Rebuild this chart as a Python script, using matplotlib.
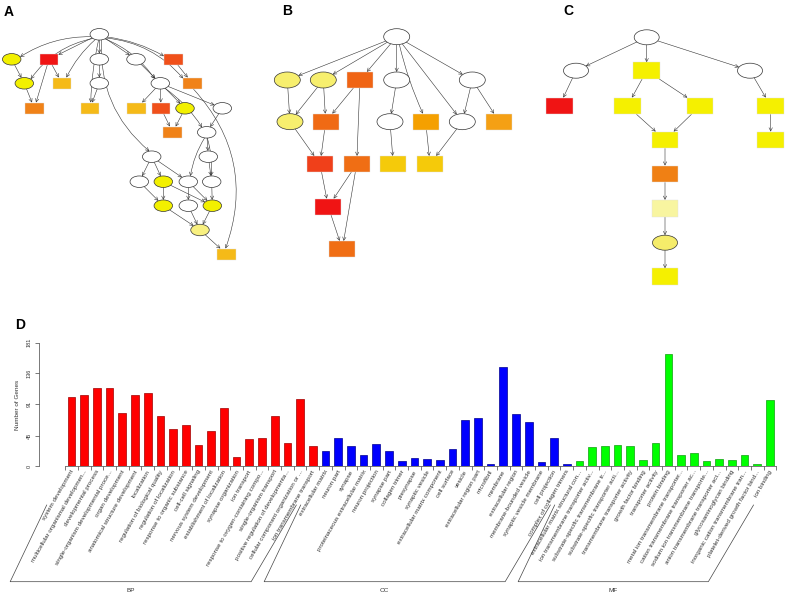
import numpy as np
import matplotlib
matplotlib.use('Agg')
import matplotlib.pyplot as plt
from matplotlib.patches import Ellipse, Rectangle

plt.rcParams['font.family'] = ['Liberation Sans', 'DejaVu Sans']

# ============================================
# Data for panel D (GO term counts)
# ============================================
bp_terms = ['system development', 'multicellular organismal developmen...',
            'developmental process', 'single-organism developmental proce...',
            'organ development', 'anatomical structure development',
            'localization', 'regulation of biological quality',
            'regulation of localization', 'response to organic substance',
            'cell-cell signaling', 'nervous system development',
            'establishment of localization', 'synapse organization',
            'ion transport', 'response to oxygen-containing compo...',
            'single-organism transport', 'positive regulation of developmenta...',
            'cellular component organization or ...', 'ion transmembrane transport']
bp_counts = [101, 105, 115, 114, 78, 105, 108, 74, 55, 61,
             31, 52, 85, 13, 40, 41, 73, 34, 98, 29]

cc_terms = ['extracellular matrix', 'neuron part', 'synapse',
            'proteinaceous extracellular matrix', 'neuron projection',
            'synapse part', 'collagen trimer', 'presynapse', 'synaptic vesicle',
            'extracellular matrix component', 'cell surface', 'vesicle',
            'extracellular region part', 'microfibril', 'membrane',
            'extracellular region', 'membrane-bounded vesicle',
            'synaptic vesicle membrane', 'cell projection',
            'complex of collagen trimers']
cc_counts = [22, 41, 29, 17, 33, 23, 8, 12, 10, 9,
             25, 68, 70, 3, 146, 76, 65, 6, 41, 3]

mf_terms = ['extracellular matrix structural con...',
            'ion transmembrane transporter activ...',
            'substrate-specific transmembrane tr...',
            'substrate-specific transporter acti...',
            'transmembrane transporter activity', 'growth factor binding',
            'transporter activity', 'protein binding',
            'metal ion transmembrane transporter...',
            'cation transmembrane transporter ac...',
            'sodium ion transmembrane transporte...',
            'anion transmembrane transporter act...',
            'glycosaminoglycan binding',
            'inorganic cation transmembrane tran...',
            'platelet-derived growth factor bind...', 'ion binding']
mf_counts = [8, 28, 29, 31, 29, 9, 34, 164, 16, 20, 8, 11, 9, 16, 3, 97]

group_names = ['BP', 'CC', 'MF']
y_ticks = [0, 45, 91, 136, 181]

# ============================================
# Figure and overlay (pixel coordinates)
# ============================================
fig = plt.figure(figsize=(7.87, 5.96), dpi=100)
ov = fig.add_axes([0, 0, 1, 1])
ov.set_xlim(0, 787)
ov.set_ylim(596, 0)
ov.axis('off')

for lab, lx, ly in [('A', 8.3, 11.7), ('B', 286.7, 11), ('C', 568.3, 11), ('D', 20.5, 325)]:
    ov.text(lx, ly, lab, fontsize=10, fontweight='bold', ha='center', va='center')

W = 'white'


def edge_point(node, tx, ty):
    cx, cy, shape, _, w, h = node
    dx, dy = tx - cx, ty - cy
    if shape == 'e':
        t = 1.0 / np.sqrt((dx / (w / 2)) ** 2 + (dy / (h / 2)) ** 2)
    else:
        tx_ = (w / 2) / abs(dx) if dx != 0 else np.inf
        ty_ = (h / 2) / abs(dy) if dy != 0 else np.inf
        t = min(tx_, ty_)
    return cx + dx * t, cy + dy * t


def draw_graph(nodes, edges):
    for a, b, rad in edges:
        na, nb = nodes[a], nodes[b]
        p0 = edge_point(na, nb[0], nb[1])
        p1 = edge_point(nb, na[0], na[1])
        ov.annotate('', xy=p1, xytext=p0,
                    arrowprops=dict(arrowstyle='->', lw=0.4, color='#333333',
                                    shrinkA=0, shrinkB=0, mutation_scale=6,
                                    connectionstyle=f'arc3,rad={rad}'))
    for cx, cy, shape, col, w, h in nodes.values():
        if shape == 'e':
            p = Ellipse((cx, cy), w, h, facecolor=col, edgecolor='#333333', lw=0.5, zorder=3)
        else:
            p = Rectangle((cx - w / 2, cy - h / 2), w, h, facecolor=col,
                          edgecolor='#e0e0e0', lw=0.3, zorder=3)
        ov.add_patch(p)


# ---- panel A ----
YA, RED, ORR, ORG, GOLD, LY = '#F2F000', '#F01414', '#F0501A', '#F08218', '#F5BA18', '#F8F080'
wa, ha_ = 18.5, 11.5
nodes_a = {
    'root': (99.3, 34.3, 'e', W), 'y1': (11.7, 59.3, 'e', YA), 'r1': (49, 59.3, 'r', RED),
    'w1': (99.3, 59.3, 'e', W), 'w2': (136, 59.3, 'e', W), 'or1': (173.3, 59.3, 'r', ORR),
    'y2': (24.3, 83.3, 'e', YA), 'lo1': (62, 83.3, 'r', GOLD), 'w3': (99.3, 83.3, 'e', W),
    'w4': (160.3, 83.3, 'e', W), 'o1': (192.3, 83.3, 'r', ORG), 'o2': (34.3, 108.3, 'r', ORG),
    'lo2': (90, 108.3, 'r', GOLD), 'lo3': (136.7, 108.3, 'r', GOLD), 'or2': (161, 108.3, 'r', ORR),
    'y3': (185, 108.3, 'e', YA), 'w5': (222.3, 108.3, 'e', W), 'o3': (172.7, 132.3, 'r', ORG),
    'w6': (206.7, 132.3, 'e', W), 'w7': (151.7, 156.7, 'e', W), 'w8': (208.3, 156.7, 'e', W),
    'w9': (139.3, 181.7, 'e', W), 'y4': (163.3, 181.7, 'e', YA), 'w10': (188.3, 181.7, 'e', W),
    'w11': (211.7, 181.7, 'e', W), 'y5': (163.3, 205.7, 'e', YA), 'w12': (188.3, 205.7, 'e', W),
    'y6': (212.3, 205.7, 'e', YA), 'ly1': (200, 230, 'e', LY), 'lo4': (226.7, 254.3, 'r', GOLD),
}
nodes_a = {k: v + (wa, ha_) for k, v in nodes_a.items()}
edges_a = [('root', 'y1', 0.15), ('root', 'y2', 0.2), ('root', 'r1', 0), ('root', 'lo1', 0.1),
           ('root', 'lo2', 0.05), ('root', 'w1', 0), ('root', 'w2', 0), ('root', 'w4', -0.15),
           ('root', 'or1', -0.1), ('root', 'o1', -0.2), ('root', 'w7', 0.25),
           ('y1', 'y2', 0), ('r1', 'lo1', 0), ('r1', 'o2', 0), ('y2', 'o2', 0), ('w1', 'w3', 0),
           ('w3', 'lo2', 0), ('w2', 'w4', 0), ('or1', 'o1', 0), ('o1', 'lo4', -0.3),
           ('w4', 'lo3', 0), ('w4', 'or2', 0), ('w4', 'y3', 0), ('w4', 'w5', 0), ('w4', 'w6', -0.1),
           ('or2', 'o3', 0), ('y3', 'o3', 0), ('w5', 'w6', 0),
           ('w6', 'w8', 0), ('w6', 'w10', 0.1), ('w6', 'w11', -0.1),
           ('w7', 'w9', 0), ('w7', 'y4', 0), ('w7', 'w10', 0), ('w8', 'w11', 0),
           ('w9', 'y5', 0), ('y4', 'y5', 0), ('y4', 'y6', 0), ('w10', 'w12', 0), ('w10', 'y6', 0),
           ('w11', 'y6', 0), ('y5', 'ly1', 0), ('w12', 'ly1', 0), ('y6', 'ly1', 0), ('ly1', 'lo4', 0)]
draw_graph(nodes_a, edges_a)

# ---- panel B ----
PY = '#F7EF6E'
nodes_b = {
    'root': (396.7, 36.7, 'e', W), 'y1': (287.3, 80, 'e', PY), 'y2': (323.3, 80, 'e', PY),
    'o1': (360, 80, 'r', '#F06414'), 'w1': (396.7, 80, 'e', W), 'w2': (472.3, 80, 'e', W),
    'y3': (290, 121.7, 'e', PY), 'o2': (325.7, 121.7, 'r', '#F06A14'), 'w3': (390, 121.7, 'e', W),
    'a1': (425.7, 121.7, 'r', '#F5A000'), 'w4': (462.3, 121.7, 'e', W),
    'a2': (499.3, 121.7, 'r', '#F5A014'), 'ro1': (320, 164, 'r', '#F0401A'),
    'o3': (356.7, 164, 'r', '#F06E14'), 'g1': (393.3, 164, 'r', '#F5CA0A'),
    'g2': (430, 164, 'r', '#F5CA0A'), 'r1': (328.3, 206.7, 'r', '#F01414'),
    'o4': (342.3, 249, 'r', '#F06E14'),
}
nodes_b = {k: v + (26, 16) for k, v in nodes_b.items()}
edges_b = [('root', 'y1', 0), ('root', 'y2', 0), ('root', 'o1', 0), ('root', 'w1', 0),
           ('root', 'a1', 0.05), ('root', 'w4', 0), ('root', 'w2', 0),
           ('y1', 'y3', 0), ('y2', 'y3', 0), ('y2', 'o2', 0), ('o1', 'o2', 0), ('o1', 'o3', 0),
           ('w1', 'w3', 0), ('w2', 'w4', 0), ('w2', 'a2', 0),
           ('y3', 'ro1', 0), ('o2', 'ro1', 0), ('w3', 'g1', 0), ('a1', 'g2', 0), ('w4', 'g2', 0),
           ('ro1', 'r1', 0), ('o3', 'r1', 0), ('o3', 'o4', 0), ('r1', 'o4', 0)]
draw_graph(nodes_b, edges_b)

# ---- panel C ----
YC = '#F5F000'
nodes_c = {
    'root': (646.7, 37.3, 'e', W), 'w1': (576, 70.7, 'e', W), 'y1': (646.7, 70.7, 'r', YC),
    'w2': (750, 70.7, 'e', W), 'r1': (559.3, 106, 'r', '#F01414'), 'y2': (627.3, 106, 'r', YC),
    'y3': (700, 106, 'r', YC), 'y4': (770.7, 106, 'r', YC), 'y5': (665, 140, 'r', YC),
    'y6': (770.7, 140, 'r', YC), 'o1': (665, 174, 'r', '#F08014'),
    'py': (665, 208.3, 'r', '#F8F5A0'), 'ye': (665, 242.7, 'e', '#F5EC6A'),
    'y7': (665, 276.7, 'r', YC),
}
nodes_c = {k: v + ((25, 15) if v[2] == 'e' else (26.7, 16.7)) for k, v in nodes_c.items()}
edges_c = [('root', 'w1', 0), ('root', 'y1', 0), ('root', 'w2', 0), ('w1', 'r1', 0),
           ('y1', 'y2', 0), ('y1', 'y3', 0), ('y2', 'y5', 0), ('y3', 'y5', 0), ('w2', 'y4', 0),
           ('y4', 'y6', 0), ('y5', 'o1', 0), ('o1', 'py', 0), ('py', 'ye', 0), ('ye', 'y7', 0)]
draw_graph(nodes_c, edges_c)

# ============================================
# Panel D: bar chart
# ============================================
terms = bp_terms + cc_terms + mf_terms
counts = bp_counts + cc_counts + mf_counts
sizes = [len(bp_counts), len(cc_counts), len(mf_counts)]
fills = ['#FF0000'] * sizes[0] + ['#0000FF'] * sizes[1] + ['#00FF00'] * sizes[2]
edges = ['#A00000'] * sizes[0] + ['#000090'] * sizes[1] + ['#10A010'] * sizes[2]
n = len(counts)
x = np.arange(n)

ax = fig.add_axes([39 / 787, 1 - 466.3 / 596, (787 - 39) / 787, 123.6 / 596])
ax.patch.set_alpha(0)
ax.bar(x, counts, width=0.6, color=fills, edgecolor=edges, linewidth=0.5)
ax.set_xlim(-2.56, 56.34)
ax.set_ylim(0, 181)
for s in ['top', 'right']:
    ax.spines[s].set_visible(False)
ax.spines['left'].set_bounds(0, 181)
ax.spines['bottom'].set_bounds(-0.5, n - 0.5)
for s in ['left', 'bottom']:
    ax.spines[s].set_linewidth(0.5)
    ax.spines[s].set_color('#444444')
ax.set_xticks(np.arange(n + 1) - 0.5)
ax.set_xticklabels([])
ax.set_yticks(y_ticks)
ax.set_yticklabels(y_ticks, rotation=90, va='center', fontsize=4, color='#333333')
ax.tick_params(length=3, width=0.5, color='#444444', pad=2)
ax.set_ylabel('Number of Genes', fontsize=4.6, color='#333333')
ax.yaxis.set_label_coords(-0.026, 0.5)

for i, t in enumerate(terms):
    ax.text(i + 0.1, -6, t, rotation=60, ha='right', va='center',
            rotation_mode='anchor', fontsize=4.5, color='#333333')

# group brackets
px_x, px_y = 12.7, 123.6 / 181
ybot = -(581.7 - 466.3) / px_y
ytop = -(505 - 466.3) / px_y
f = (ytop - ybot) / (0 - ybot)
start = -0.5
for name, size in zip(group_names, sizes):
    end = start + size
    lb, rb = start - 55 / px_x, end - 68 / px_x
    lt, rt = lb + f * (start - lb), rb + f * (end - rb)
    ax.plot([lt, lb, rb, rt], [ytop, ybot, ybot, ytop], color='#444444', lw=0.5, clip_on=False)
    ax.text((lb + rb) / 2, -(591 - 466.3) / px_y, name, ha='center', va='center',
            fontsize=4.6, color='#333333')
    start = end

fig.savefig('out.png', dpi=100)
